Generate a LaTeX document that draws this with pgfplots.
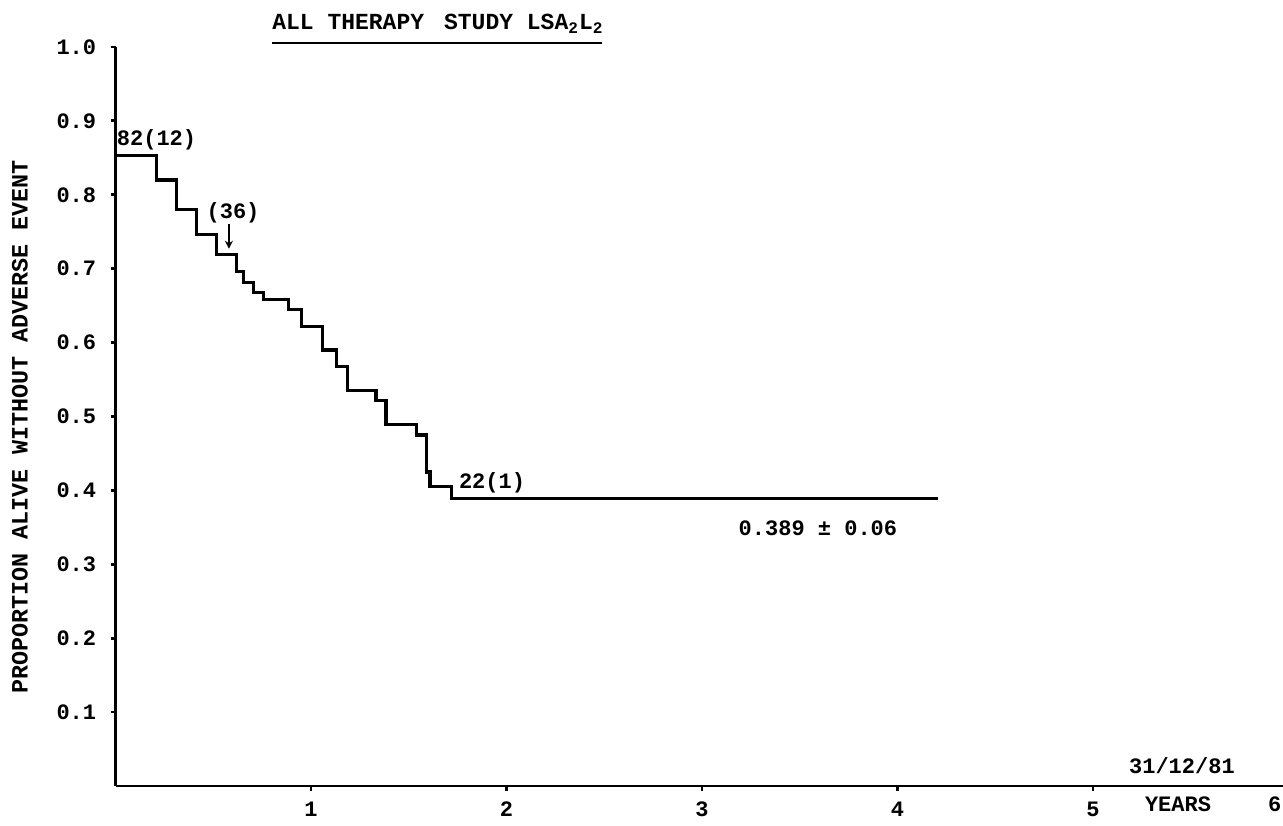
\documentclass[border=0pt]{standalone}
\usepackage{fontspec}
\setmainfont{Liberation Mono}
\usepackage{pgfplots}
\pgfplotsset{compat=1.18}
\usetikzlibrary{arrows.meta}

\begin{document}
\begin{tikzpicture}[font=\fontsize{11}{13}\selectfont\bfseries]
\begin{axis}[
  scale only axis, width=583.75pt, height=369.5pt,
  xmin=0, xmax=5.972, ymin=0, ymax=1,
  axis x line=bottom, axis y line=left,
  axis line style={-, line width=1.4pt},
  xtick={1,2,3,4,5}, xticklabels={1,2,3,4,5},
  ytick={0.1,0.2,0.3,0.4,0.5,0.6,0.7,0.8,0.9,1.0},
  yticklabels={0.1,0.2,0.3,0.4,0.5,0.6,0.7,0.8,0.9,1.0},
  tick align=outside, major tick length=2.5pt,
  tick style={line width=1.4pt, black},
  xticklabel style={anchor=center, inner sep=0pt, yshift=-9pt},
  yticklabel style={anchor=east, inner sep=0pt, xshift=-7pt},
  clip=false,
]
% Kaplan-Meier style step curve
\addplot[const plot, black, line width=1.6pt] coordinates {
  (0,0.853) (0.211,0.820) (0.313,0.780) (0.415,0.746) (0.518,0.719)
  (0.620,0.696) (0.654,0.681) (0.705,0.668) (0.756,0.658) (0.884,0.645)
  (0.952,0.622) (1.060,0.590) (1.131,0.568) (1.188,0.535) (1.332,0.522)
  (1.384,0.489) (1.541,0.475) (1.592,0.425) (1.609,0.405) (1.720,0.389)
  (4.207,0.389)
};

% annotations
\node[anchor=west, inner sep=0pt] at (axis cs:0.005,0.874) {82(12)};
\node[inner sep=0pt] at (axis cs:0.601,0.775) {(36)};
\draw[-{Stealth[length=4pt,width=4pt]}, line width=0.9pt]
  (axis cs:0.580,0.760) -- (axis cs:0.580,0.727);
\node[inner sep=0pt] at (axis cs:1.926,0.410) {22(1)};
\node[inner sep=0pt] at (axis cs:3.593,0.349) {0.389 ± 0.06};
\node[inner sep=0pt] at (axis cs:5.455,0.028) {31/12/81};
\node[inner sep=0pt, yshift=-9pt] at (axis cs:5.435,0) {YEARS};
\node[inner sep=0pt, yshift=-9pt] at (axis cs:5.93,0) {6};

% title
\node[anchor=base west, inner sep=0pt, font=\fontsize{11.5}{13}\selectfont\bfseries]
  at (axis cs:0.800,1.023)
  {ALL THERAPY\hspace*{10pt}STUDY LSA\textsubscript{2}L\textsubscript{2}};
\draw[line width=1pt] (axis cs:0.800,1.0054) -- (axis cs:2.488,1.0054);

% y label
\node[rotate=90, inner sep=0pt, font=\fontsize{11.7}{13}\selectfont\bfseries]
  at (axis cs:-0.489,0.486)
  {PROPORTION ALIVE WITHOUT ADVERSE EVENT};

\coordinate (bl) at (axis cs:-0.591,-0.0528);
\coordinate (tr) at (axis cs:5.972,1.0636);
\end{axis}
\pgfresetboundingbox
\path (bl) rectangle (tr);
\end{tikzpicture}
\end{document}
